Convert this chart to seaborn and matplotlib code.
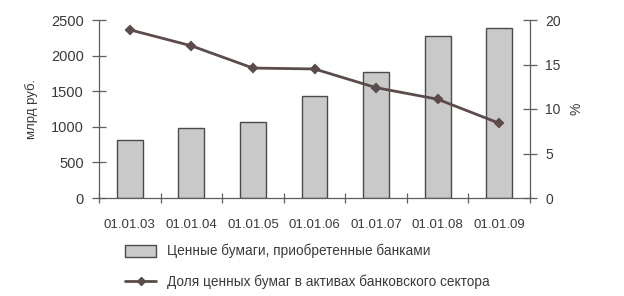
import matplotlib
matplotlib.use("Agg")
import matplotlib.pyplot as plt
import seaborn as sns
import pandas as pd
from matplotlib.patches import Patch
from matplotlib.lines import Line2D

dates = ["01.01.03", "01.01.04", "01.01.05", "01.01.06", "01.01.07", "01.01.08", "01.01.09"]
securities = [820, 985, 1070, 1430, 1765, 2275, 2390]
share_pct = [18.9, 17.1, 14.6, 14.5, 12.4, 11.1, 8.4]
bar_label = "Ценные бумаги, приобретенные банками"
line_label = "Доля ценных бумаг в активах банковского сектора"

sns.set_theme(style="white")
plt.rcParams["font.family"] = ["Liberation Sans", "DejaVu Sans"]
plt.rcParams.update({"xtick.bottom": True, "ytick.left": True, "ytick.right": True,
                     "xtick.major.size": 7, "ytick.major.size": 10})

txt = "#3a3a3a"
axc = "#5e5e5e"
bar_fc = "#c9c9c9"
bar_ec = "#4a4a4a"
line_c = "#5b4b4a"

df = pd.DataFrame({"date": dates, "val": securities, "pct": share_pct})

fig = plt.figure(figsize=(6.24, 2.96), dpi=100)
ax = fig.add_axes([99/624, 1-198/296, (530-99)/624, (198-20)/296])

sns.barplot(data=df, x="date", y="val", color=bar_fc, edgecolor=bar_ec,
            linewidth=1.0, width=0.42, saturation=1, ax=ax)
ax.set_ylim(0, 2500)
ax.set_xlim(-0.5, 6.5)
ax.set_yticks([0, 500, 1000, 1500, 2000, 2500])
ax.set_xlabel("")
ax.set_ylabel("млрд руб.", color=txt, fontsize=9.5, labelpad=9)

ax2 = ax.twinx()
sns.pointplot(data=df, x="date", y="pct", color=line_c, markers="D",
              markersize=4.5, linewidth=2.0, ax=ax2)
ax2.set_ylim(0, 20)
ax2.set_yticks([0, 5, 10, 15, 20])
ax2.set_xlim(-0.5, 6.5)
ax2.set_xlabel("")
ax2.set_ylabel("%", color=txt, fontsize=10, labelpad=6)

# x ticks at category boundaries, labels at centres
ax.set_xticks([i + 0.5 for i in range(-1, 7)], minor=False)
ax.set_xticklabels([""] * 8)
ax.set_xticks(range(7), minor=True)
ax.set_xticklabels(dates, minor=True)
ax.tick_params(axis="x", which="major", bottom=True, direction="inout", length=7,
               color=axc, width=0.9)
ax.tick_params(axis="x", which="minor", bottom=True, length=0, pad=15,
               labelsize=9.5, labelcolor=txt)

ax.tick_params(axis="y", left=True, right=False, direction="inout", length=10,
               color=axc, width=0.9, labelsize=10.5, labelcolor=txt, pad=6)
ax2.tick_params(axis="y", right=True, left=False, direction="inout", length=10,
                color=axc, width=0.9, labelsize=10, labelcolor=txt, pad=6)

for a in (ax, ax2):
    a.spines["top"].set_visible(False)
    for s in ("left", "right", "bottom"):
        a.spines[s].set_color(axc)
        a.spines[s].set_linewidth(0.9)
ax.spines["right"].set_visible(False)
ax2.spines["left"].set_visible(False)
ax2.spines["bottom"].set_visible(False)
ax.grid(False)
ax2.grid(False)

handles = [
    Patch(facecolor=bar_fc, edgecolor=bar_ec, linewidth=1.0),
    Line2D([0], [0], color=line_c, lw=2.0, marker="D", markersize=4.5),
]
fig.legend(handles, [bar_label, line_label], loc="upper left",
           bbox_to_anchor=(125/624, 1-244/296), frameon=False,
           fontsize=9.8, labelcolor=txt, handlelength=2.3, handleheight=1.0,
           handletextpad=0.8, labelspacing=1.2, borderpad=0, borderaxespad=0)

fig.savefig("out.png", dpi=100, facecolor="white")
